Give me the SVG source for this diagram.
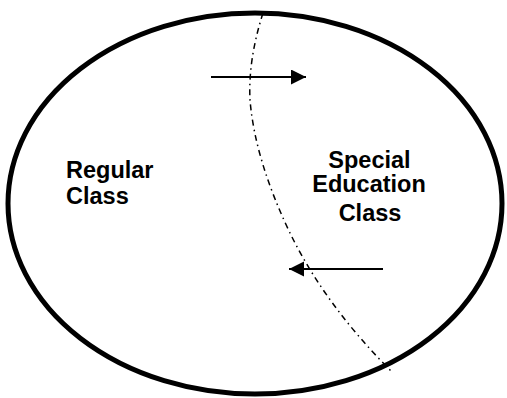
<svg xmlns="http://www.w3.org/2000/svg" width="507" height="398" viewBox="0 0 507 398">
<style>
.lbl{font-family:"Liberation Sans",Arial,sans-serif;font-weight:bold;font-size:23.5px;fill:#000}
.arr{stroke:#000;stroke-width:2;fill:none}
</style>
<defs>
<marker id="ah" markerWidth="16" markerHeight="16" refX="15" refY="7.5" orient="auto" markerUnits="userSpaceOnUse">
<path d="M0,0 L15,7.5 L0,15 Z" fill="#000"/>
</marker>
</defs>
<rect width="507" height="398" fill="#fff"/>
<g id="classroom">
<ellipse cx="255" cy="203.5" rx="247" ry="190.5" fill="none" stroke="#000" stroke-width="5"/>
</g>
<g id="divider">
<path d="M263,13 Q248,60 250,100 Q255,160 290,233 Q325,305 392,372" fill="none" stroke="#000" stroke-width="1.5" stroke-dasharray="6,4,1.5,4"/>
</g>
<g id="regular-class">
<text class="lbl" x="66" y="177.5">Regular</text>
<text class="lbl" x="66" y="204">Class</text>
</g>
<g id="special-education-class">
<text class="lbl" x="369.5" y="168" text-anchor="middle">Special</text>
<text class="lbl" x="369" y="192" text-anchor="middle">Education</text>
<text class="lbl" x="370" y="221" text-anchor="middle">Class</text>
</g>
<g id="connectors">
<line class="arr" x1="211" y1="77" x2="306" y2="77" marker-end="url(#ah)"/>
<line class="arr" x1="383" y1="269" x2="289" y2="269" marker-end="url(#ah)"/>
</g>
</svg>
